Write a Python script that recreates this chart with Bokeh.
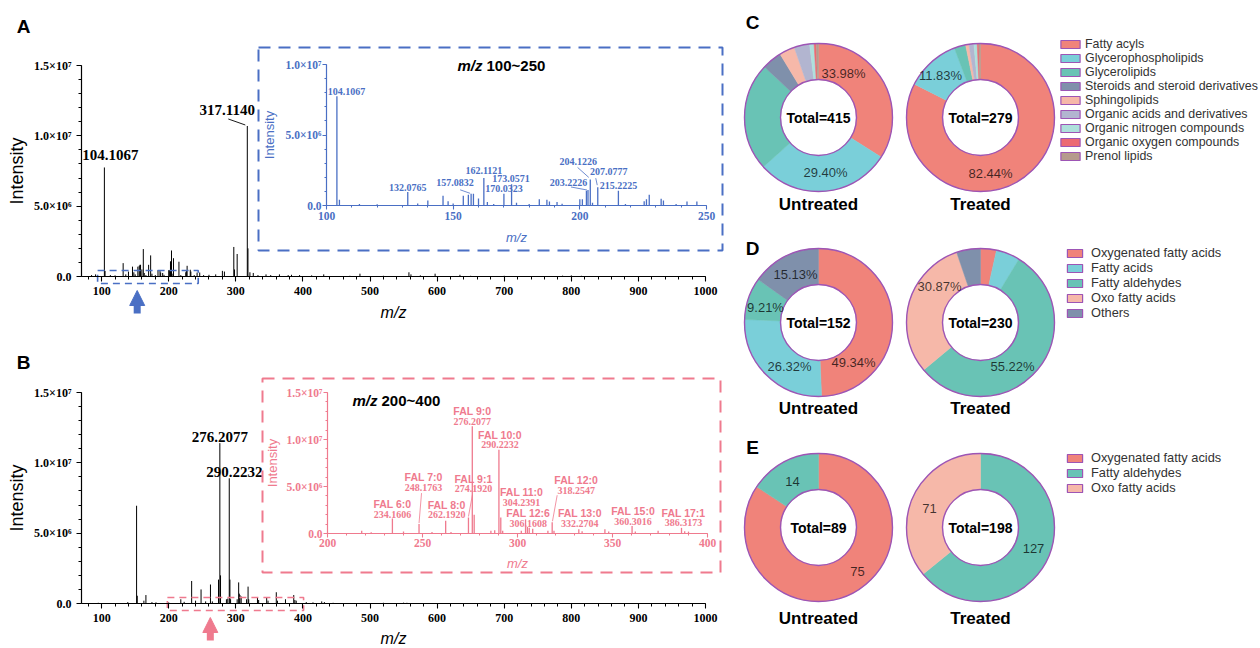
import math
from bokeh.plotting import figure
from bokeh.models import (Range1d, ColumnDataSource, SingleIntervalTicker,
                          CustomJSTickFormatter, Label, Arrow, NormalHead,
                          Legend, LegendItem, GridBox)
from bokeh.core.properties import value
from bokeh.embed import file_html
from bokeh.resources import INLINE

# ---------------- data ----------------
# Panel A (untreated) stick spectrum: m/z and intensity (x 1e6)
mz_A = [85, 91, 104.1067, 105.1, 113, 120, 132.0765, 136, 140, 146,
        148, 150, 154, 156, 157.0832, 158, 160, 162.1121, 163.5, 166,
        170.0323, 173.0571, 175, 180, 184, 187, 188, 191, 193, 200,
        201, 202.6, 203.2226, 204.1226, 205, 207.0777, 215.2225, 218, 225.4, 226.3,
        227.4, 232.1, 233, 238, 242.3, 246.2, 252, 260, 270, 280,
        283, 297, 298, 302, 317.1140, 318.1, 321, 326, 333, 345,
        352, 365, 378, 383, 395, 413, 431, 470, 485, 520,
        558, 561, 575, 597, 634, 650, 700, 787, 800, 815]
int_A = [0.1, 0.15, 7.75, 0.4, 0.1, 0.08, 0.95, 0.15, 0.35, 0.7,
         0.3, 0.15, 0.7, 0.76, 0.83, 0.83, 0.5, 1.95, 0.25, 0.1,
         0.83, 1.5, 0.2, 0.1, 0.45, 0.4, 0.28, 0.25, 0.12, 0.45,
         0.45, 1.05, 1.1, 1.85, 0.2, 1.3, 1.05, 0.1, 0.3, 0.45,
         0.76, 0.48, 0.35, 0.1, 0.28, 0.28, 0.1, 0.12, 0.15, 0.4,
         0.35, 2.1, 0.5, 1.6, 10.7, 2.0, 0.3, 0.25, 0.1, 0.15,
         0.1, 0.15, 0.1, 0.12, 0.1, 0.08, 0.15, 0.05, 0.2, 0.05,
         0.3, 0.15, 0.08, 0.2, 0.12, 0.05, 0.05, 0.06, 0.08, 0.05]

# Panel B (treated) stick spectrum
mz_B = [95, 139, 152.1, 153.1, 163, 166, 175, 181, 200, 218,
        223, 234.1606, 240, 248.1763, 255, 262.1920, 265, 274.1920, 276.2077, 277.2,
        286, 288, 290.2232, 291.2, 292.2, 302, 304.2391, 305.2, 306.1608, 308,
        316, 318.2547, 319.2, 332.2704, 334, 346, 348, 360.3016, 362, 374,
        386.3173, 388, 390, 405, 415, 428, 432, 445, 520, 550, 555]
int_B = [0.05, 0.1, 6.95, 0.55, 0.2, 0.6, 0.1, 0.08, 0.08, 0.3,
         0.12, 1.6, 0.2, 1.0, 0.15, 1.35, 0.15, 1.7, 11.4, 2.0,
         0.3, 0.35, 8.9, 1.7, 0.3, 0.3, 1.5, 0.7, 0.6, 0.5,
         0.3, 1.2, 0.3, 0.45, 0.25, 0.45, 0.2, 0.8, 0.2, 0.3,
         0.6, 0.25, 0.2, 0.1, 0.08, 0.15, 0.1, 0.05, 0.05, 0.06, 0.05]

A_main_peaks = [104.1067, 317.1140]
A_inset_peaks = [104.1067, 132.0765, 157.0832, 162.1121, 170.0323, 173.0571,
                 203.2226, 204.1226, 207.0777, 215.2225]
B_main_peaks = [276.2077, 290.2232]
B_fal_names = ["FAL 6:0", "FAL 7:0", "FAL 8:0", "FAL 9:1", "FAL 9:0", "FAL 10:0",
               "FAL 11:0", "FAL 12:6", "FAL 12:0", "FAL 13:0", "FAL 15:0", "FAL 17:1"]
B_fal_mz = [234.1606, 248.1763, 262.1920, 274.1920, 276.2077, 290.2232,
            304.2391, 306.1608, 318.2547, 332.2704, 360.3016, 386.3173]

A_zoom = (94, 244)
B_zoom = (198, 401)
A_arrow_mz = 153
B_arrow_mz = 262

C_classes = ["Fatty acyls", "Glycerophospholipids", "Glycerolipids",
             "Steroids and steroid derivatives", "Sphingolipids",
             "Organic acids and derivatives", "Organic nitrogen compounds",
             "Organic oxygen compounds", "Prenol lipids"]
C_untreated = [141, 122, 98, 18, 14, 14, 4, 2, 2]
C_treated = [230, 33, 7, 0, 2, 3, 2, 1, 1]
D_classes = ["Oxygenated fatty acids", "Fatty acids", "Fatty aldehydes",
             "Oxo fatty acids", "Others"]
D_untreated = [75, 40, 14, 0, 23]
D_treated = [8, 12, 127, 71, 12]
E_classes = ["Oxygenated fatty acids", "Fatty aldehydes", "Oxo fatty acids"]
E_untreated = [75, 14, 0]
E_treated = [0, 127, 71]

# ---------------- style ----------------
SANS = "Liberation Sans"
SERIF = "Liberation Serif"
BLUE = "#4A6FC4"
PINK = "#EF7A8E"
PURPLE = "#9D55B5"
C_colors = ["#F0837A", "#7ACFD9", "#69C3B5", "#7F90AB", "#F6B8A9",
            "#B2B5D0", "#AEE0DC", "#EC6A73", "#B59B8D"]
D_colors = ["#F0837A", "#7ACFD9", "#69C3B5", "#F6B8A9", "#7F90AB"]
E_colors = ["#F0837A", "#69C3B5", "#F6B8A9"]

SUP_CODE = r"""
if (Math.abs(tick) < 1) return "0.0";
const e = Math.floor(Math.log10(Math.abs(tick)) + 1e-9);
const m = tick / Math.pow(10, e);
const sup = {"0":"\u2070","1":"\u00b9","2":"\u00b2","3":"\u00b3","4":"\u2074","5":"\u2075","6":"\u2076","7":"\u2077","8":"\u2078","9":"\u2079","-":"\u207b"};
let s = "";
for (const c of String(e)) s += sup[c];
return m.toFixed(1) + "\u00d710" + s;
"""


class Frame:
    """A figure whose frame fills its whole canvas, placed at page pixels."""

    def __init__(self, box, xa, ya):
        L, T, R, B = box
        xv0, xp0, xv1, xp1 = xa
        yv0, yp0, yv1, yp1 = ya
        self.kx = (xp1 - xp0) / (xv1 - xv0)
        self.ky = (yp1 - yp0) / (yv1 - yv0)
        self.xv0, self.xp0, self.yv0, self.yp0 = xv0, xp0, yv0, yp0
        p = figure(x_range=Range1d(self.X(L), self.X(R)),
                   y_range=Range1d(self.Y(B), self.Y(T)),
                   frame_width=R - L, frame_height=B - T,
                   min_border_left=0, min_border_top=0,
                   min_border_right=0, min_border_bottom=0,
                   output_backend="svg", toolbar_location=None, tools="")
        p.margin = (T, 0, 0, L)
        p.title.visible = False
        p.xgrid.visible = False
        p.ygrid.visible = False
        p.outline_line_color = None
        p.border_fill_color = None
        p.background_fill_color = None
        self.p = p

    def X(self, px):
        return self.xv0 + (px - self.xp0) / self.kx

    def Y(self, py):
        return self.yv0 + (py - self.yp0) / self.ky

    def dX(self, d):
        return d / self.kx

    def dY(self, d):
        return d / self.ky


def style_axis(ax, color, tick_size, label_size, label_style, maj, mnr,
               tick_standoff, label_standoff):
    ax.axis_line_color = color
    ax.axis_line_width = 1.2
    ax.major_tick_line_color = color
    ax.minor_tick_line_color = color
    ax.major_tick_line_width = 1.1
    ax.major_tick_in = 0
    ax.major_tick_out = maj
    ax.minor_tick_in = 0
    ax.minor_tick_out = mnr
    ax.major_label_text_font = SERIF
    ax.major_label_text_font_style = "bold"
    ax.major_label_text_font_size = tick_size
    ax.major_label_text_color = color
    ax.major_label_standoff = tick_standoff
    ax.axis_label_text_font = SANS
    ax.axis_label_text_font_size = label_size
    ax.axis_label_text_font_style = label_style
    ax.axis_label_text_color = color
    ax.axis_label_standoff = label_standoff


def sticks(fr, mz, inten, color, width, lo=-1e9, hi=1e9):
    xs = [m for m in mz if lo <= m <= hi]
    ys = [i * 1e6 for m, i in zip(mz, inten) if lo <= m <= hi]
    fr.p.segment(x0=xs, y0=[0] * len(xs), x1=xs, y1=ys,
                 line_color=color, line_width=width)


def texts(fr, xs, ys, txt, offs, color, font, size, style="bold", alpha=1.0):
    fr.p.text(x=xs, y=ys, text=txt,
              x_offset=[o[0] for o in offs], y_offset=[o[1] for o in offs],
              text_align="center", text_baseline="middle",
              text_font=value(font), text_font_style=style,
              text_font_size=value(size), text_color=color, text_alpha=alpha)


def leaders(fr, peaks, lookup, segs, color, width=0.9):
    x0 = [m + fr.dX(s[0]) for m, s in zip(peaks, segs)]
    y0 = [lookup[m] * 1e6 + fr.dY(s[1]) for m, s in zip(peaks, segs)]
    x1 = [m + fr.dX(s[2]) for m, s in zip(peaks, segs)]
    y1 = [lookup[m] * 1e6 + fr.dY(s[3]) for m, s in zip(peaks, segs)]
    fr.p.segment(x0=x0, y0=y0, x1=x1, y1=y1, line_color=color, line_width=width)


def free_label(fr, px, py, text, size, style="bold", color="black", font=SANS,
               align="center"):
    fr.p.add_layout(Label(x=fr.X(px), y=fr.Y(py), text=text, text_font=font,
                          text_font_size=size, text_font_style=style,
                          text_color=color, text_align=align,
                          text_baseline="middle"))


lookA = dict(zip(mz_A, int_A))
lookB = dict(zip(mz_B, int_B))


def main_panel(box, y0px, letter, letter_pos, mz, inten, lookup, peaks, offs,
               segs, zoom, arrow_mz, color, lab_stand):
    fr = Frame(box, (70, 81, 1000, 705), (0, y0px, 1.5e7, y0px - 211))
    p = fr.p
    sticks(fr, mz, inten, "black", 1.0)
    xa = p.xaxis[0]
    xa.ticker = SingleIntervalTicker(interval=100, num_minor_ticks=5)
    xa.fixed_location = 0
    xa.bounds = (70, 1000)
    xa.axis_label = "m/z"
    style_axis(xa, "black", "12px", "16px", "italic", 5, 3, 5, lab_stand)
    ya = p.yaxis[0]
    ya.ticker = SingleIntervalTicker(interval=5e6, num_minor_ticks=5)
    ya.formatter = CustomJSTickFormatter(code=SUP_CODE)
    ya.fixed_location = 70
    ya.bounds = (0, 1.5e7)
    ya.axis_label = "Intensity"
    style_axis(ya, "black", "12px", "18px", "normal", 5, 3, 5, 4)
    texts(fr, peaks, [lookup[m] * 1e6 for m in peaks], ["%.4f" % m for m in peaks],
          offs, "black", SERIF, "15px")
    if segs:
        leaders(fr, [peaks[i] for i, s in segs], lookup, [s for i, s in segs], "black")
    # zoom window marker
    p.quad(left=[zoom[0]], right=[zoom[1]], bottom=[fr.dY(7)], top=[fr.dY(-6)],
           fill_color=None, line_color=color, line_width=1.6, line_dash="7 5")
    p.add_layout(Arrow(end=NormalHead(size=15, fill_color=color, line_color=color),
                       x_start=arrow_mz, y_start=fr.dY(37), x_end=arrow_mz, y_end=fr.dY(14),
                       line_color=color, line_width=7))
    free_label(fr, letter_pos[0], letter_pos[1], letter, "19px")
    return fr


frA = main_panel((0, 0, 730, 333), 276, "A", (23, 26), mz_A, int_A, lookA,
                 A_main_peaks, [(6, -12), (-20, -15.5)],
                 [(1, (-19, -7, -2, -1))], A_zoom, A_arrow_mz, BLUE, 6)
frB = main_panel((0, 335, 730, 647), 603, "B", (23, 362), mz_B, int_B, lookB,
                 B_main_peaks, [(0, -6.6), (5, -6)], [], B_zoom, B_arrow_mz, PINK, 5)


def inset_panel(box, dash_box, xa, ya, xr, ymax, xint, color, mz, inten, title,
                title_pos, xstand, ystand):
    fr = Frame(box, xa, ya)
    p = fr.p
    L, T, R, B = dash_box
    p.quad(left=[fr.X(L)], right=[fr.X(R)], bottom=[fr.Y(B)], top=[fr.Y(T)],
           fill_color=None, line_color=color, line_width=2, line_dash="12 8")
    sticks(fr, mz, inten, color, 1.3, xr[0], xr[1])
    xa_ = p.xaxis[0]
    xa_.ticker = SingleIntervalTicker(interval=xint, num_minor_ticks=5)
    xa_.fixed_location = 0
    xa_.bounds = xr
    xa_.axis_label = "m/z"
    style_axis(xa_, color, "11.5px", "13px", "italic", 4, 2, xstand[0], xstand[1])
    ya_ = p.yaxis[0]
    ya_.ticker = SingleIntervalTicker(interval=5e6, num_minor_ticks=5)
    ya_.formatter = CustomJSTickFormatter(code=SUP_CODE)
    ya_.fixed_location = xr[0]
    ya_.bounds = (0, ymax)
    ya_.axis_label = "Intensity"
    style_axis(ya_, color, "11.5px", "13px", "normal", 4, 2, ystand[0], ystand[1])
    free_label(fr, title_pos[0], title_pos[1], "m/z", "15px", "bold italic", align="left")
    free_label(fr, title_pos[0] + 29, title_pos[1], title, "15px", "bold", align="left")
    return fr


frAi = inset_panel((250, 40, 730, 258), (258, 47, 722, 250),
                   (100, 326, 250, 706), (0, 205, 1e7, 64),
                   (100, 250), 1e7, 50, BLUE, mz_A, int_A, "100~250", (457, 65),
                   (2, 7), (1, 6))
A_inset_offs = [(9.6, -4.7), (0, -5), (-16, -11), (0, -7.5), (0, -5.3), (-0.5, -6),
                (-19.5, -7.5), (-12, -18), (11, -16), (0, -5)]
texts(frAi, A_inset_peaks, [lookA[m] * 1e6 for m in A_inset_peaks],
      ["%.4f" % m for m in A_inset_peaks], A_inset_offs, BLUE, SERIF, "10px")
leaders(frAi, [157.0832, 203.2226, 204.1226, 207.0777], lookA,
        [(-11, -4, -1, -0.5), (-17, -3, -1, 0), (-12.7, -12, -1.5, -2), (-2, -9, -0.5, -2)],
        BLUE, 0.8)

frBi = inset_panel((254, 370, 728, 580), (262, 378, 720, 572),
                   (200, 327, 400, 707), (0, 533, 1.5e7, 392),
                   (200, 400), 1.5e7, 50, PINK, mz_B, int_B, "200~400", (352, 400),
                   (1, 6), (1, 4))
B_fal_offs = [(0, -4), (4.5, -37), (1, -6), (5, -29), (0, -5), (1, -5), (-4, -17),
              (-1, -4.5), (24, -32), (1, -6), (1, -4.5), (2, -5)]
B_fal_y = [lookB[m] * 1e6 for m in B_fal_mz]
texts(frBi, B_fal_mz, B_fal_y, ["%.4f" % m for m in B_fal_mz], B_fal_offs,
      PINK, SERIF, "10px")
texts(frBi, B_fal_mz, B_fal_y, B_fal_names, [(o[0], o[1] - 10) for o in B_fal_offs],
      PINK, SANS, "10.5px")
leaders(frBi, [248.1763, 274.1920, 318.2547], lookB,
        [(2.5, -31, 0, -1), (4, -23, 0, -1), (5, -27, 0.3, -1)], PINK, 0.8)

# ---------------- donut panels ----------------
RL, RT, RR, RB = 735, 0, 1259, 647
frR = Frame((RL, RT, RR, RB), (RL, RL, RR, RR), (-RB, RB, -RT, RT))
pr = frR.p
pr.xaxis.visible = False
pr.yaxis.visible = False
R_OUT, R_IN = 74, 38


def donut(cx, cy, vals, colors, labs, total_dy, name):
    tot = sum(vals)
    cum = 0
    st, en, col = [], [], []
    for v, c in zip(vals, colors):
        a0 = math.pi / 2 - 2 * math.pi * cum / tot
        cum += v
        a1 = math.pi / 2 - 2 * math.pi * cum / tot
        if v > 0:
            st.append(a0)
            en.append(a1)
            col.append(c)
    src = ColumnDataSource(dict(s=st, e=en, c=col))
    pr.annular_wedge(x=cx, y=-cy, inner_radius=R_IN, outer_radius=R_OUT,
                     start_angle="s", end_angle="e", direction="clock",
                     fill_color="c", line_color="c", line_width=0.5, source=src)
    pr.circle(x=[cx, cx], y=[-cy, -cy], radius=[R_OUT, R_IN], fill_color=None,
              line_color=PURPLE, line_width=1.4)
    lx, ly, lt = [], [], []
    for idx, dx, dy, kind in labs:
        lx.append(cx + dx)
        ly.append(-(cy + dy))
        lt.append("%.2f%%" % (vals[idx] / tot * 100) if kind == "pct" else str(vals[idx]))
    texts(frR, lx, ly, lt, [(0, 0)] * len(lt), "black", SANS, "13px", "normal", 0.72)
    texts(frR, [cx], [-cy], ["Total=%d" % tot], [(0, 0)], "black", SANS, "14px")
    texts(frR, [cx], [-(cy + total_dy)], [name], [(0, 0)], "black", SANS, "17px")


def legend(classes, colors, x, y_top, gw, gh, stand, size, row_h):
    n = len(classes)
    src = ColumnDataSource(dict(l=[float("nan")] * n, r=[float("nan")] * n,
                                b=[float("nan")] * n, t=[float("nan")] * n, c=colors))
    r = pr.quad(left="l", right="r", bottom="b", top="t", fill_color="c",
                line_color=PURPLE, line_width=1.2, source=src)
    items = [LegendItem(label=c, renderers=[r], index=i) for i, c in enumerate(classes)]
    leg = Legend(items=items, location=(x - RL, RB - (y_top + n * row_h)),
                 glyph_width=gw, glyph_height=gh, label_standoff=stand,
                 label_text_font=SANS, label_text_font_size=size,
                 label_text_color="#333333", label_height=row_h, spacing=0,
                 padding=0, margin=0, border_line_color=None,
                 background_fill_alpha=0)
    pr.add_layout(leg)


donut(818, 117, C_untreated, C_colors, [(0, 25, -44, "pct"), (1, 7, 55, "pct")], 87, "Untreated")
donut(980, 117, C_treated, C_colors, [(1, -40, -42, "pct"), (0, 10, 56, "pct")], 87, "Treated")
donut(818, 322, D_untreated, D_colors, [(4, -23, -48, "pct"), (2, -53, -15, "pct"),
                                        (1, -29, 44, "pct"), (0, 35, 40, "pct")], 86, "Untreated")
donut(980, 322, D_treated, D_colors, [(3, -41, -36, "pct"), (2, 32, 44, "pct")], 86, "Treated")
donut(818, 527, E_untreated, E_colors, [(1, -26, -46, "n"), (0, 39, 44, "n")], 91, "Untreated")
donut(980, 527, E_treated, E_colors, [(2, -51, -19, "n"), (1, 53, 21, "n")], 91, "Treated")

legend(C_classes, C_colors, 1058, 37, 24, 10, 3, "12.4px", 14)
legend(D_classes, D_colors, 1065, 250, 19, 10, 7, "12.8px", 14)
legend(E_classes, E_colors, 1065, 450, 19, 10, 7, "12.8px", 15)

for letter, py in (("C", 22), ("D", 248), ("E", 447)):
    free_label(frR, 752, py, letter, "19px")

grid = GridBox(children=[(f.p, 0, 0) for f in (frA, frB, frAi, frBi, frR)])
open("out.html", "w").write(file_html(grid, INLINE))
